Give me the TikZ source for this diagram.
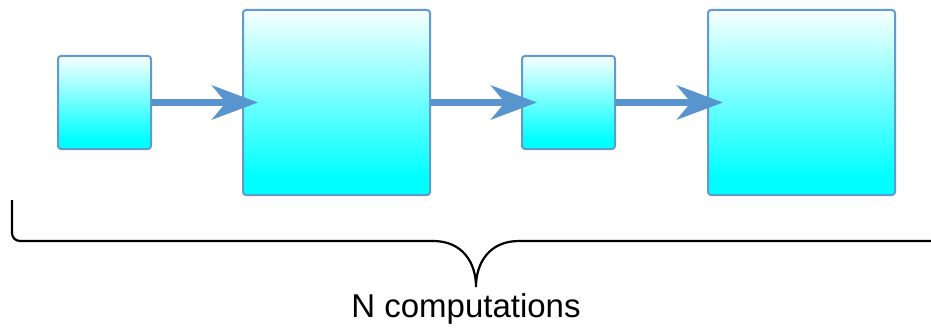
\documentclass[tikz,border=0pt]{standalone}
\usepackage{fontspec}
\setmainfont{Liberation Sans}
\usetikzlibrary{arrows.meta}
\definecolor{edgeblue}{HTML}{5F9AD3}
\definecolor{arrowblue}{HTML}{5895CE}
\pgfdeclareverticalshading{cellfill}{100bp}{%
  color(0bp)=(cyan); color(30bp)=(cyan); color(75bp)=(white!97!cyan); color(100bp)=(white!97!cyan)}
\tikzset{
  cell/.style={draw=edgeblue, line width=2pt, rounded corners=3pt,
    shading=cellfill, inner sep=0pt, anchor=north west},
  small/.style={cell, minimum width=93pt, minimum height=93pt},
  large/.style={cell, minimum width=187pt, minimum height=185pt},
  flow/.style={draw=arrowblue, line width=7pt,
    -{Stealth[length=46pt, width=34pt, inset=14pt, fill=arrowblue]}},
  brace/.style={draw=black, line width=2.2pt, rounded corners=8pt}
}
\begin{document}
\begin{tikzpicture}[x=1pt, y=-1pt]
  \useasboundingbox (0,0) rectangle (931,329);
  % four processing stages
  \node[small] (s1) at (57,55) {};
  \node[large] (s2) at (242,9) {};
  \node[small] (s3) at (521,55) {};
  \node[large] (s4) at (707,9) {};
  % data flow between stages
  \draw[flow] (s1.east) -- ([xshift=16pt]s2.west);
  \draw[flow] (s2.east) -- ([xshift=16pt]s3.west);
  \draw[flow] (s3.east) -- ([xshift=16pt]s4.west);
  % brace spanning all stages
  \coordinate (bl) at (12,200);
  \coordinate (tip) at (476,287);
  \coordinate (br) at (933,241);
  \draw[brace] (bl) -- (12,241) -- (434,241);
  \draw[line width=2.2pt] (433,241) .. controls (462,241) and (476,262) .. (tip)
    .. controls (476,262) and (490,241) .. (519,241) -- (br);
  \node[font=\fontsize{33}{38}\selectfont, anchor=base] (lbl) at (466,317) {N computations};
\end{tikzpicture}
\end{document}
